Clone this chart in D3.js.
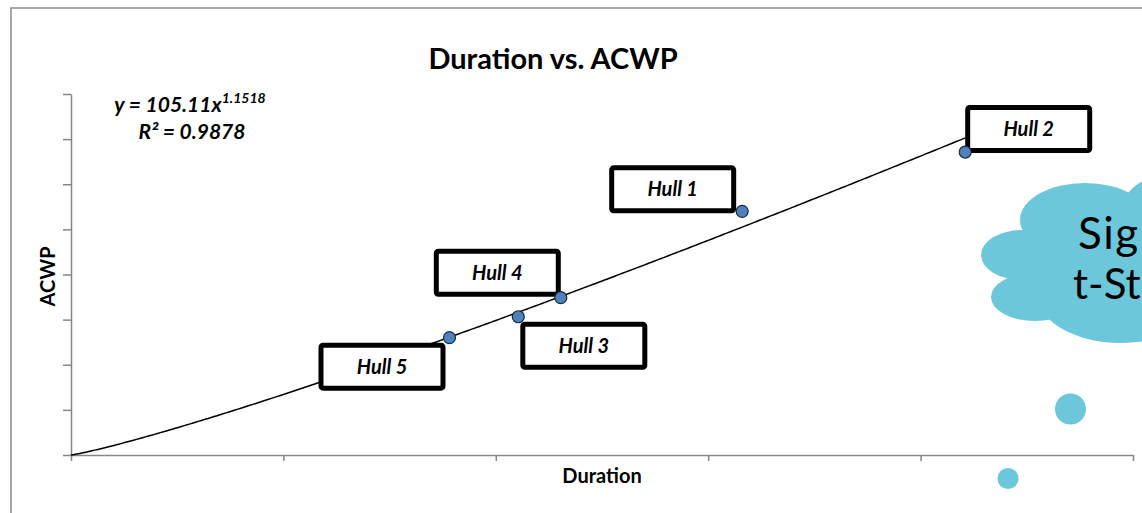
<!DOCTYPE html>
<html>
<head>
<meta charset="utf-8">
<script src="https://cdn.jsdelivr.net/npm/d3@7"></script>
<style>
  body { margin: 0; background: #fff; }
  svg { display: block; }
  text { font-family: Lato, "Open Sans", sans-serif; }
</style>
</head>
<body>
<svg width="1142" height="513"></svg>
<script>
// data
const hullNames = ["Hull 5", "Hull 3", "Hull 4", "Hull 1", "Hull 2"];
const durations = [8.91, 10.53, 11.53, 15.80, 21.05];
const acwpValues = [1300, 1532, 1743, 2700, 3357];

// power trendline shown on the chart
const fitCoefficient = 105.11;
const fitExponent = 1.1518;
const fitR2 = "0.9878";

const xTicks = [0, 5, 10, 15, 20, 25];
const yTicks = [0, 500, 1000, 1500, 2000, 2500, 3000, 3500, 4000];

// cloud text, as much as shows inside the picture
const cloudLines = ["Sig", "t-St"];

// label box placement, relative to its point (px)
const labelOffsets = [[-131, 5], [2, 5], [-127, -49], [-133, -46], [0, -47]];

const axisColor = "#868686";
const pointColor = "#4f81bd";
const cloudColor = "#6bc7d9";

const svg = d3.select("svg");
const margin = { left: 71, right: 9, top: 94, bottom: 58 };
const width = Number(svg.attr("width"));
const height = Number(svg.attr("height"));

const x = d3.scaleLinear().domain([0, 25]).range([margin.left, width - margin.right]);
const y = d3.scaleLinear().domain([0, 4000]).range([height - margin.bottom, margin.top]);

// chart area frame (left and top edges visible)
svg.append("path")
    .attr("d", `M11,${height}V8H${width}`)
    .attr("fill", "none")
    .attr("stroke", "#8c8c8c")
    .attr("stroke-width", 1.5);

// title
svg.append("text")
    .attr("x", 553)
    .attr("y", 69)
    .attr("text-anchor", "middle")
    .attr("font-size", 29)
    .attr("font-weight", "bold")
    .text("Duration vs. ACWP");

// axes
const xAxis = svg.append("g")
    .attr("transform", `translate(0,${y(0)})`)
    .call(d3.axisBottom(x).tickValues(xTicks).tickFormat("").tickSize(6).tickSizeOuter(0));
const yAxis = svg.append("g")
    .attr("transform", `translate(${x(0)},0)`)
    .call(d3.axisLeft(y).tickValues(yTicks).tickFormat("").tickSize(8).tickSizeOuter(0));
[xAxis, yAxis].forEach(g => {
    g.selectAll("path, line").attr("stroke", axisColor).attr("stroke-width", 1.5);
});

svg.append("text")
    .attr("x", (x(0) + x(25)) / 2)
    .attr("y", 483)
    .attr("text-anchor", "middle")
    .attr("font-size", 20)
    .attr("font-weight", "bold")
    .text("Duration");

svg.append("text")
    .attr("transform", `translate(55,${(y(0) + y(4000)) / 2 + 2}) rotate(-90)`)
    .attr("text-anchor", "middle")
    .attr("font-size", 20)
    .attr("font-weight", "bold")
    .text("ACWP");

// trendline y = a x^b, from 0 to the largest duration
const maxDuration = d3.max(durations);
const trend = d3.range(0, 301).map(i => {
    const d = maxDuration * i / 300;
    return [d, fitCoefficient * Math.pow(d, fitExponent)];
});
svg.append("path")
    .datum(trend)
    .attr("fill", "none")
    .attr("stroke", "#000")
    .attr("stroke-width", 1.5)
    .attr("d", d3.line().x(d => x(d[0])).y(d => y(d[1])));

// equation text
const eq = svg.append("text")
    .attr("x", 190)
    .attr("y", 112)
    .attr("text-anchor", "middle")
    .attr("font-size", 21)
    .attr("font-weight", "bold")
    .attr("font-style", "italic");
eq.append("tspan").text(`y = ${fitCoefficient}x`);
eq.append("tspan").attr("dy", -9).attr("font-size", 14).text(fitExponent);
svg.append("text")
    .attr("x", 192)
    .attr("y", 139)
    .attr("text-anchor", "middle")
    .attr("font-size", 21)
    .attr("font-weight", "bold")
    .attr("font-style", "italic")
    .text(`R² = ${fitR2}`);

// label boxes
const points = hullNames.map((name, i) => ({ name, d: durations[i], v: acwpValues[i], off: labelOffsets[i] }));
const boxW = 127, boxH = 48, boxStroke = 5;
const labels = svg.append("g")
    .selectAll("g")
    .data(points)
    .join("g")
    .attr("transform", p => `translate(${x(p.d) + p.off[0]},${y(p.v) + p.off[1]})`);
labels.append("rect")
    .attr("x", boxStroke / 2)
    .attr("y", boxStroke / 2)
    .attr("width", boxW - boxStroke)
    .attr("height", boxH - boxStroke)
    .attr("rx", 2)
    .attr("fill", "#fff")
    .attr("stroke", "#000")
    .attr("stroke-width", boxStroke);
labels.append("text")
    .attr("x", boxW / 2)
    .attr("y", boxH / 2 + 7)
    .attr("text-anchor", "middle")
    .attr("font-size", 20)
    .attr("font-weight", "bold")
    .attr("font-style", "italic")
    .text(p => p.name);

// data points
svg.append("g")
    .selectAll("circle")
    .data(points)
    .join("circle")
    .attr("cx", p => x(p.d))
    .attr("cy", p => y(p.v))
    .attr("r", 6)
    .attr("fill", pointColor)
    .attr("stroke", "#1a2a44")
    .attr("stroke-width", 1.2);

// thought cloud on the right
const cloud = svg.append("g").attr("fill", cloudColor);
[
    [1085, 220, 65, 37],
    [1022, 255, 41, 25],
    [1035, 297, 44, 24],
    [1120, 290, 85, 53],
    [1175, 215, 55, 42],
    [1100, 262, 80, 62]
].forEach(e => cloud.append("ellipse")
    .attr("cx", e[0]).attr("cy", e[1]).attr("rx", e[2]).attr("ry", e[3]));
cloud.append("circle").attr("cx", 1070.5).attr("cy", 409).attr("r", 15.5);
cloud.append("circle").attr("cx", 1008).attr("cy", 478.5).attr("r", 10.5);

svg.append("g")
    .selectAll("text")
    .data(cloudLines)
    .join("text")
    .attr("x", (d, i) => (i === 0 ? 1078 : 1073))
    .attr("y", (d, i) => 249 + i * 50)
    .attr("font-family", "DejaVu Sans, Verdana, sans-serif")
    .attr("font-size", (d, i) => (i === 0 ? 44 : 42))
    .attr("letter-spacing", (d, i) => (i === 0 ? 1.5 : 0))
    .attr("fill", "#000")
    .text(d => d);
</script>
</body>
</html>
